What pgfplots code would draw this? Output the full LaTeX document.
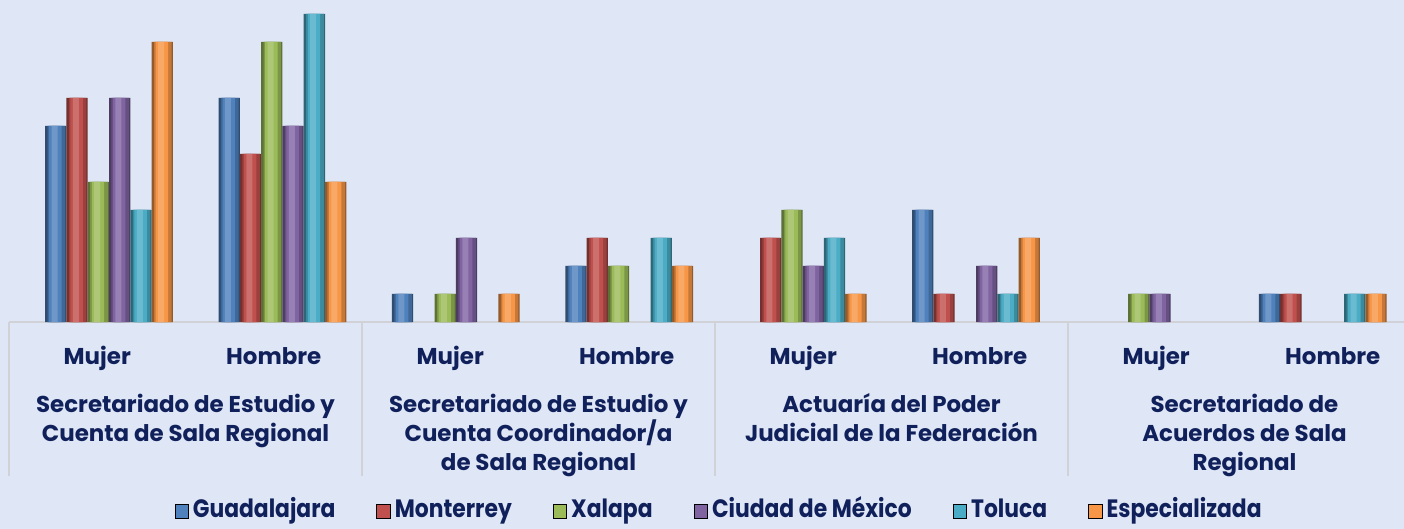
\documentclass[border=0pt]{standalone}
\usepackage{pgfplots}
\pgfplotsset{compat=1.18}
\usepackage{fontspec}
\setmainfont{Poppins}
\newfontfamily\legfont[FakeStretch=0.87]{Poppins}
\definecolor{bg}{HTML}{DFE6F6}
\definecolor{txt}{HTML}{10205A}
\definecolor{gl}{HTML}{D0D2D7}
\definecolor{cG}{HTML}{4F81BD}
\definecolor{cM}{HTML}{C0504D}
\definecolor{cX}{HTML}{9BBB59}
\definecolor{cC}{HTML}{8064A2}
\definecolor{cT}{HTML}{4BACC6}
\definecolor{cE}{HTML}{F79646}
\newcommand\pxy[2]{({(#1)*0.5bp},{(529-(#2))*0.5bp})}
\pgfplotsset{
  cylA/.style={draw=none, fill=#1!60!black, forget plot, bar width=10.65bp},
  cylB/.style={draw=none, fill=#1!80!black, forget plot, bar width=8.8bp},
  cylC/.style={draw=none, fill=#1, forget plot, bar width=6.2bp},
  cylD/.style={draw=none, fill=#1!82!white, forget plot, bar width=3bp},
}
\pgfplotstableread{
x y
0 7
1 8
2 1
3 2
5 4
7 1
}\tG
\pgfplotstableread{
x y
0 8
1 6
3 3
4 3
5 1
7 1
}\tM
\pgfplotstableread{
x y
0 5
1 10
2 1
3 2
4 4
6 1
}\tX
\pgfplotstableread{
x y
0 8
1 7
2 3
4 2
5 2
6 1
}\tC
\pgfplotstableread{
x y
0 4
1 11
3 3
4 3
5 1
7 1
}\tT
\pgfplotstableread{
x y
0 10
1 5
2 1
3 2
4 1
5 3
7 1
}\tE
\newcommand\cyl[3]{%
\addplot[cylA=#1, bar shift=#2] table {#3};
\addplot[cylB=#1, bar shift=#2+0.3bp] table {#3};
\addplot[cylC=#1, bar shift=#2-0.2bp] table {#3};
\addplot[cylD=#1, bar shift=#2-0.6bp] table {#3};
}
\begin{document}
\begin{tikzpicture}
\useasboundingbox (0,0) rectangle (702bp,264.5bp);
\fill[bg] (0,0) rectangle (702bp,264.5bp);
\begin{axis}[
  at={(4.5bp,103.5bp)}, anchor=south west, scale only axis,
  width=697.5bp, height=161bp,
  xmin=-0.5767, xmax=7.4683, ymin=0, ymax=11.5,
  hide axis, clip=false,
  ybar=0pt,
  legend columns=6,
  legend image code/.code={\fill[#1] (0bp,-3.4bp) rectangle (6.8bp,3.4bp);},
  legend style={draw=none, fill=none, at={(0.5097,-0.588)}, anchor=center,
    font=\legfont\bfseries\fontsize{12.6}{14}\selectfont, text=txt,
    /tikz/every even column/.append style={column sep=18.5bp},
    nodes={inner xsep=2bp, inner ysep=1bp, text height=8.6bp, text depth=2.6bp}},
]
\draw[gl, line width=1bp] (axis cs:-0.5767,0) -- (axis cs:7.4683,0);
\draw[gl, line width=0.8bp] (axis cs:-0.5767,0) -- (axis cs:-0.5767,-5.5);
\draw[gl, line width=0.8bp] (axis cs:1.459,0) -- (axis cs:1.459,-5.5);
\draw[gl, line width=0.8bp] (axis cs:3.4948,0) -- (axis cs:3.4948,-5.5);
\draw[gl, line width=0.8bp] (axis cs:5.5306,0) -- (axis cs:5.5306,-5.5);
\addlegendimage{fill=cG}\addlegendentry{Guadalajara}
\addlegendimage{fill=cM}\addlegendentry{Monterrey}
\addlegendimage{fill=cX}\addlegendentry{Xalapa}
\addlegendimage{fill=cC}\addlegendentry{Ciudad de México}
\addlegendimage{fill=cT}\addlegendentry{Toluca}
\addlegendimage{fill=cE}\addlegendentry{Especializada}
\cyl{cG}{-2.5*10.65bp}{\tG}
\cyl{cM}{-1.5*10.65bp}{\tM}
\cyl{cX}{-0.5*10.65bp}{\tX}
\cyl{cC}{0.5*10.65bp}{\tC}
\cyl{cT}{1.5*10.65bp}{\tT}
\cyl{cE}{2.5*10.65bp}{\tE}
\end{axis}
\begin{scope}[every node/.style={anchor=base, text=txt, font=\bfseries\fontsize{11.5}{14}\selectfont, inner sep=0pt}]
\node at \pxy{97.25}{364} {Mujer};
\node at \pxy{273.75}{364} {Hombre};
\node at \pxy{450.25}{364} {Mujer};
\node at \pxy{626.75}{364} {Hombre};
\node at \pxy{803.25}{364} {Mujer};
\node at \pxy{979.75}{364} {Hombre};
\node at \pxy{1156.25}{364} {Mujer};
\node at \pxy{1332.75}{364} {Hombre};
\node at \pxy{185.5}{412} {Secretariado de Estudio y};
\node at \pxy{185.5}{441} {Cuenta de Sala Regional};
\node at \pxy{538.5}{412} {Secretariado de Estudio y};
\node at \pxy{538.5}{441} {Cuenta Coordinador/a};
\node at \pxy{538.5}{470} {de Sala Regional};
\node at \pxy{891.5}{412} {Actuaría del Poder};
\node at \pxy{891.5}{441} {Judicial de la Federación};
\node at \pxy{1244.5}{412} {Secretariado de};
\node at \pxy{1244.5}{441} {Acuerdos de Sala};
\node at \pxy{1244.5}{470} {Regional};
\end{scope}
\end{tikzpicture}
\end{document}
